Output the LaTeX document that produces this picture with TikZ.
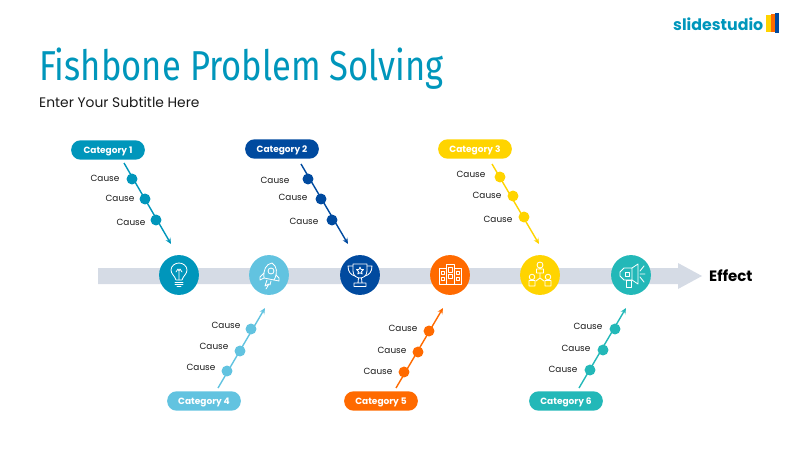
\documentclass[tikz,border=0pt]{standalone}
\usepackage{fontspec}
\setmainfont{Poppins}
\newfontfamily\titlefont[FakeStretch=0.826]{Fira Sans}
\usetikzlibrary{arrows.meta}
\definecolor{teal1}{HTML}{0096BB}
\definecolor{navy2}{HTML}{004A9F}
\definecolor{yellow3}{HTML}{FFD400}
\definecolor{sky4}{HTML}{62C3E0}
\definecolor{orange5}{HTML}{FF6A00}
\definecolor{green6}{HTML}{23B8B8}
\definecolor{spine}{HTML}{D5DBE5}
\tikzset{
  category/.style={rounded corners=9.5*0.85pt, minimum width=74*0.85pt, minimum height=19.5*0.85pt, inner sep=0pt, text=white, text height=6.5pt, text depth=0.8pt, font=\fontsize{7.7}{8}\selectfont\bfseries},
  cause/.style={inner sep=0pt, yshift=-0.3pt, text=black!90, font=\fontsize{7.6}{8}\selectfont},
  bone/.style={line width=1.2pt, -{Stealth[length=5pt,width=4.5pt]}},
  knot/.style={circle, inner sep=0pt, minimum size=11*0.85pt},
  hub/.style={circle, inner sep=0pt, minimum size=40*0.85pt},
  icon/.style={draw=white, line width=0.7pt, line join=round, line cap=round}
}
\begin{document}
\begin{tikzpicture}[x=0.03cm, y=-0.03cm]
    \useasboundingbox (0,0) rectangle (800,450);

    % Header
    \node[anchor=base west, inner sep=0pt, text=teal1, font=\titlefont\fontsize{35.7}{38}\selectfont] (title) at (39,81) {Fishbone Problem Solving};
    \node[anchor=base west, inner sep=0pt, text=black!90, font=\fontsize{11.8}{13}\selectfont] (subtitle) at (39,108) {Enter Your Subtitle Here};

    % Logo
    \node[anchor=west, inner sep=0pt, text=teal1, font=\fontsize{13.5}{16}\selectfont\bfseries] (logo) at (673,24) {slidestudio};
    \fill[yellow3] (766,15) rectangle (771,32);
    \fill[orange5] (771,14) rectangle (775,32);
    \fill[navy2] (775,13) rectangle (779,33);

    % Spine
    \fill[spine] (98,268) -- (678,268) -- (678,263) -- (702,276) -- (678,289) -- (678,284) -- (98,284) -- cycle;
    \node[anchor=west, inner sep=0pt, font=\fontsize{12.8}{14}\selectfont\bfseries] (effect) at (709,276) {Effect};

    % Circles
    \node[hub, fill=teal1] (hub1) at (179,275) {};
    \node[hub, fill=sky4] (hub2) at (269,275) {};
    \node[hub, fill=navy2] (hub3) at (360,275) {};
    \node[hub, fill=orange5] (hub4) at (450,275) {};
    \node[hub, fill=yellow3] (hub5) at (540,275) {};
    \node[hub, fill=green6] (hub6) at (631,275) {};

    % Categories
    \node[category, fill=teal1] (cat1) at (108,150) {Category 1};
    \node[category, fill=navy2] (cat2) at (282,149) {Category 2};
    \node[category, fill=yellow3] (cat3) at (475,149) {Category 3};
    \node[category, fill=sky4] (cat4) at (204,401) {Category 4};
    \node[category, fill=orange5] (cat5) at (381,401) {Category 5};
    \node[category, fill=green6] (cat6) at (566,401) {Category 6};

    % Bone ends
    \coordinate (a1) at (124,163);
    \coordinate (b1) at (171,244);
    \coordinate (a2) at (301,164);
    \coordinate (b2) at (348,244);
    \coordinate (a3) at (492,164);
    \coordinate (b3) at (539,244);
    \coordinate (a4) at (218,388);
    \coordinate (b4) at (265,308);
    \coordinate (a5) at (396,388);
    \coordinate (b5) at (443,308);
    \coordinate (a6) at (579,388);
    \coordinate (b6) at (626,308);

    % Bones
    \draw[bone, teal1] (a1) -- (b1);
    \draw[bone, navy2] (a2) -- (b2);
    \draw[bone, yellow3] (a3) -- (b3);
    \draw[bone, sky4] (a4) -- (b4);
    \draw[bone, orange5] (a5) -- (b5);
    \draw[bone, green6] (a6) -- (b6);

    % Knots
    \node[knot, fill=teal1] (k11) at (132,179) {};
    \node[knot, fill=teal1] (k12) at (145,199) {};
    \node[knot, fill=teal1] (k13) at (156,220) {};
    \node[knot, fill=navy2] (k21) at (308,179) {};
    \node[knot, fill=navy2] (k22) at (321,199) {};
    \node[knot, fill=navy2] (k23) at (332,220) {};
    \node[knot, fill=yellow3] (k31) at (500,177) {};
    \node[knot, fill=yellow3] (k32) at (513,196) {};
    \node[knot, fill=yellow3] (k33) at (524,217) {};
    \node[knot, fill=sky4] (k41) at (251,329) {};
    \node[knot, fill=sky4] (k42) at (240,351) {};
    \node[knot, fill=sky4] (k43) at (227,371) {};
    \node[knot, fill=orange5] (k51) at (429,331) {};
    \node[knot, fill=orange5] (k52) at (418,352) {};
    \node[knot, fill=orange5] (k53) at (404,372) {};
    \node[knot, fill=green6] (k61) at (615,329) {};
    \node[knot, fill=green6] (k62) at (603,350) {};
    \node[knot, fill=green6] (k63) at (590,370) {};

    % Causes
    \node[cause] (c11) at (105,178) {Cause};
    \node[cause] (c12) at (120,198) {Cause};
    \node[cause] (c13) at (131,222) {Cause};
    \node[cause] (c21) at (275,180) {Cause};
    \node[cause] (c22) at (293,197) {Cause};
    \node[cause] (c23) at (304,221) {Cause};
    \node[cause] (c31) at (471,174) {Cause};
    \node[cause] (c32) at (487,195) {Cause};
    \node[cause] (c33) at (498,219) {Cause};
    \node[cause] (c41) at (226,325) {Cause};
    \node[cause] (c42) at (214,346) {Cause};
    \node[cause] (c43) at (201,367) {Cause};
    \node[cause] (c51) at (403,328) {Cause};
    \node[cause] (c52) at (392,350) {Cause};
    \node[cause] (c53) at (378,371) {Cause};
    \node[cause] (c61) at (588,326) {Cause};
    \node[cause] (c62) at (576,348) {Cause};
    \node[cause] (c63) at (563,369) {Cause};

    % Bulb
    \begin{scope}[shift={(hub1)}]
        \draw[icon] (-3,5) .. controls (-4,1) and (-8,-1) .. (-8,-5) .. controls (-8,-9) and (-4,-12) .. (0,-12) .. controls (4,-12) and (8,-9) .. (8,-5) .. controls (8,-1) and (4,1) .. (3,5) -- cycle;
        \draw[icon] (-3,-3) -- (-1,-6) -- (0,-4) -- (1,-6) -- (3,-3) (0,-4) -- (0,5);
        \draw[icon] (-4,7) -- (4,7) (-4,9) -- (4,9) (-2,11.5) -- (2,11.5);
    \end{scope}

    % Rocket
    \begin{scope}[shift={(hub2)}]
        \draw[icon] (-5,3) .. controls (-6,-5) and (-3,-11) .. (3,-12) .. controls (8,-9) and (9,-2) .. (5,5) -- cycle;
        \draw[icon] (2,-4) circle (3);
        \draw[icon] (-5,-2) -- (-9,2) -- (-9,5) -- (-5,3) (7,0) -- (10,3) -- (10,6) -- (5,5);
        \draw[icon] (-2,5) -- (-4,11) -- (0,9) -- (-3,14) (2,6) -- (1,10);
    \end{scope}

    % Trophy
    \begin{scope}[shift={(hub3)}]
        \draw[icon] (-7,-11) -- (7,-11) -- (7,-4) .. controls (7,1) and (3,3) .. (0,3) .. controls (-3,3) and (-7,1) .. (-7,-4) -- cycle;
        \draw[icon] (-7,-9) -- (-12,-9) .. controls (-12,-3) and (-9,0) .. (-5,1) (7,-9) -- (12,-9) .. controls (12,-3) and (9,0) .. (5,1);
        \draw[icon] (0,-8) -- (1,-5.5) -- (3.5,-5.5) -- (1.5,-3.5) -- (2.2,-1) -- (0,-2.3) -- (-2.2,-1) -- (-1.5,-3.5) -- (-3.5,-5.5) -- (-1,-5.5) -- cycle;
        \draw[icon] (-1.5,3) -- (-2,8) (1.5,3) -- (2,8) (-6,8) rectangle (6,11.5);
    \end{scope}

    % Buildings
    \begin{scope}[shift={(hub4)}]
        \draw[icon] (-11,-7) rectangle (-4,9) (4,-7) rectangle (11,9) (-4,-11) rectangle (4,9);
        \draw[icon] (-2,-8) rectangle (2,-3) (-2,-1) rectangle (2,3) (-9,-4) rectangle (-6,-1) (6,-4) rectangle (9,-1) (-9,2) rectangle (-6,5) (6,2) rectangle (9,5);
    \end{scope}

    % People
    \begin{scope}[shift={(hub5)}]
        \draw[icon] (0,-10) circle (3) (-3.5,-2) -- (-3.5,-6) -- (3.5,-6) -- (3.5,-2) -- cycle;
        \draw[icon] (-8,2) circle (2.8) (-11,11) -- (-11,5.5) -- (-5,5.5) -- (-5,11) -- cycle;
        \draw[icon] (8,2) circle (2.8) (5,11) -- (5,5.5) -- (11,5.5) -- (11,11) -- cycle;
        \draw[icon] (0,-2) -- (0,3) -- (-4,6) (0,3) -- (4,6);
    \end{scope}

    % Megaphone
    \begin{scope}[shift={(hub6)}]
        \draw[icon] (-11,-3) -- (-7,-7) -- (1,-7) -- (1,5) -- (-7,5) -- (-11,1) -- cycle;
        \draw[icon] (1,-7) -- (7,-11) -- (7,9) -- (1,5);
        \draw[icon] (-6,-3) rectangle (-2,1) (-5,5) rectangle (0,12);
        \draw[icon] (9,-1) -- (14,-1) (9,-4) -- (13,-9) (9,2) -- (13,7);
    \end{scope}
\end{tikzpicture}
\end{document}
